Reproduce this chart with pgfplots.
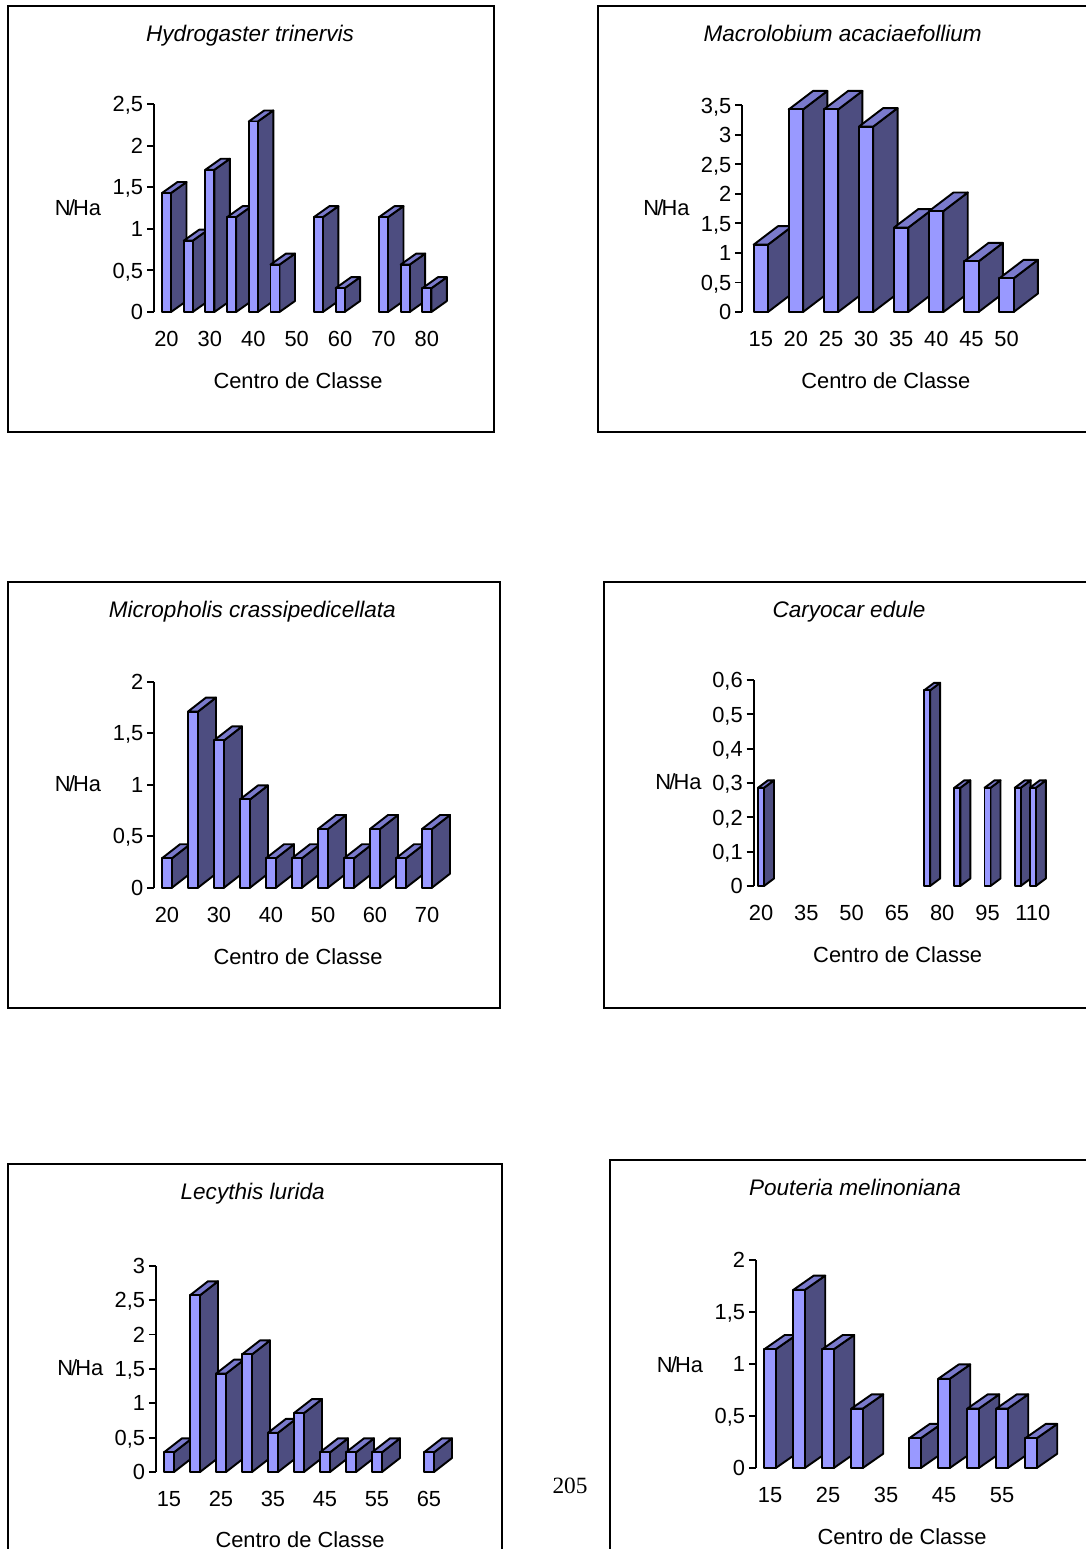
\documentclass[border=0pt]{standalone}
\usepackage{pgfplots}
\pgfplotsset{compat=1.18}
\usepackage{fontspec}
\setmainfont{Liberation Sans}
\newfontfamily\pagefont{Liberation Serif}
\definecolor{barfront}{HTML}{9999FF}
\definecolor{barside}{HTML}{4D4D80}
\definecolor{bartop}{HTML}{7A7ACC}
\newcommand\lab{\fontsize{16.4}{19}\selectfont}
\newcommand\tit{\fontsize{16.9}{19}\selectfont}
\pgfplotsset{
  barline/.style={draw=black,line width=1.45pt,line join=round},
}
% One pseudo-3D column: side and top faces, then the front face.
% Arguments: class centre, N/Ha value.
\newcommand\column[2]{%
  \pgfmathparse{#2>0 ? 1 : 0}%
  \ifnum\pgfmathresult=1
    \pgfmathsetmacro\xa{#1-0.5*\W/\XS}%
    \pgfmathsetmacro\xb{#1+0.5*\W/\XS}%
    \pgfmathsetmacro\xc{\xb+\DX/\XS}%
    \pgfmathsetmacro\xd{\xa+\DX/\XS}%
    \pgfmathsetmacro\dy{\DY*\Ymax/(\Bt-\Tp)}%
    \pgfmathsetmacro\ytop{#2+\dy}%
    \edef\faces{%
      \noexpand\addplot[barline,fill=barside] coordinates {(\xb,0)(\xc,\dy)(\xc,\ytop)(\xb,#2)} --cycle;
      \noexpand\addplot[barline,fill=bartop] coordinates {(\xa,#2)(\xb,#2)(\xc,\ytop)(\xd,\ytop)} --cycle;
      \noexpand\addplot[barline,fill=barfront] coordinates {(\xa,0)(\xb,0)(\xb,#2)(\xa,#2)} --cycle;
    }%
    \faces
  \fi
}
% Arguments: title, y ticks, x ticks, class/value pairs.
\newcommand\panel[4]{%
  \pgfmathsetmacro\Ax{\Lf*0.75}%
  \pgfmathsetmacro\Ay{-\Bt*0.75}%
  \pgfmathsetmacro\xlo{\Xz-(\Cz-\Lf)/\XS}%
  \pgfmathsetmacro\xhi{\Xz+(\Rt-\Cz)/\XS}%
  \pgfmathsetmacro\Wd{(\Rt-\Lf)*0.75}%
  \pgfmathsetmacro\Ht{(\Bt-\Tp)*0.75}%
  \pgfmathsetmacro\TXr{(\TX-\Lf)/(\Rt-\Lf)}%
  \pgfmathsetmacro\TYr{(\Bt-\TY)/(\Bt-\Tp)}%
  \pgfmathsetmacro\NXr{(\NX-\Lf)/(\Rt-\Lf)}%
  \pgfmathsetmacro\NYr{(\Bt-\NY)/(\Bt-\Tp)}%
  \pgfmathsetmacro\CXr{(\CX-\Lf)/(\Rt-\Lf)}%
  \pgfmathsetmacro\CYr{(\Bt-\CY)/(\Bt-\Tp)}%
  \pgfmathsetmacro\tickdrop{(\TLY-\Bt)*0.75+5.8-5.25}%
  \begin{axis}[
    at={(\Ax pt,\Ay pt)},anchor=south west,
    scale only axis,width=\Wd pt,height=\Ht pt,
    xmin=\xlo,xmax=\xhi,ymin=0,ymax=\Ymax,
    clip=false,
    axis y line=left,axis x line*=bottom,
    axis line style={line width=1.45pt,-},
    x axis line style={draw=none},
    xtick={#3},ytick={#2},
    tick align=outside,
    major tick length=5.25pt,
    ytick style={line width=1.45pt,black},
    xtick style={draw=none},
    tick label style={font=\lab},
    /pgf/number format/assume math mode=true,
    /pgf/number format/use comma,
    /pgf/number format/fixed,
    /pgf/number format/precision=1,
    yticklabel style={anchor=base east,inner sep=0pt,xshift=-2.8pt,yshift=-5.8pt},
    xticklabel style={anchor=base,inner sep=0pt,yshift=-\tickdrop pt},
    title={\itshape #1},
    every axis title shift=0pt,
    title style={font=\tit,at={(axis description cs:\TXr,\TYr)},anchor=base,inner sep=0pt,yshift=-5.7pt},
    xlabel={Centro de Classe},
    xlabel style={font=\lab,at={(axis description cs:\CXr,\CYr)},anchor=center,inner sep=0pt},
    ylabel={N\kern-1.4pt/\kern-1.4ptHa},
    ylabel style={font=\lab,at={(axis description cs:\NXr,\NYr)},anchor=center,rotate=-90,inner sep=0pt},
  ]
    \foreach \c/\v in {#4}{\column{\c}{\v}}
  \end{axis}%
}
\begin{document}
\begin{tikzpicture}[x=0.75pt,y=-0.75pt]
\useasboundingbox (0,0) rectangle (1086,1549);
\tikzset{frame/.style={line width=1.5pt,black}}
% Chart frames; those at the page edge run off it.
\draw[frame] (8,6) rectangle (494,432);
\draw[frame] (1086,6) -- (598,6) -- (598,432) -- (1086,432);
\draw[frame] (8,582) rectangle (500,1008);
\draw[frame] (1086,582) -- (604,582) -- (604,1008) -- (1086,1008);
\draw[frame] (8,1549) -- (8,1164) -- (502,1164) -- (502,1549);
\draw[frame] (610,1549) -- (610,1160) -- (1086,1160);
\node[font=\pagefont\fontsize{17.5}{20}\selectfont,anchor=center,inner sep=0pt] at (570,1486) {205};

% Hydrogaster trinervis
\def\Lf{154}\def\Rt{450}\def\Bt{312}\def\Tp{104}\def\Ymax{2.5}
\def\XS{4.34}\def\Xz{20}\def\Cz{166.5}\def\W{9}\def\DX{15.5}\def\DY{11}
\def\TX{250}\def\TY{34}\def\NX{78}\def\NY{208}\def\CX{298}\def\CY{380.5}\def\TLY{339}
\panel{Hydrogaster trinervis}{0,0.5,1,1.5,2,2.5}{20,30,40,50,60,70,80}
  {20/1.43,25/0.857,30/1.71,35/1.14,40/2.29,45/0.57,50/0,55/1.14,60/0.286,65/0,70/1.14,75/0.57,80/0.286}

% Macrolobium acaciaefollium
\def\Lf{742.3}\def\Rt{1040}\def\Bt{312}\def\Tp{105.3}\def\Ymax{3.5}
\def\XS{7.02}\def\Xz{15}\def\Cz{760.8}\def\W{14.3}\def\DX{24.3}\def\DY{18.5}
\def\TX{842.7}\def\TY{34}\def\NX{666.5}\def\NY{208}\def\CX{885.8}\def\CY{380.5}\def\TLY{339}
\panel{Macrolobium acaciaefollium}{0,0.5,1,1.5,2,2.5,3,3.5}{15,20,25,30,35,40,45,50}
  {15/1.14,20/3.43,25/3.43,30/3.14,35/1.43,40/1.71,45/0.857,50/0.57}

% Micropholis crassipedicellata
\def\Lf{154.3}\def\Rt{452}\def\Bt{887.7}\def\Tp{681.7}\def\Ymax{2}
\def\XS{5.2}\def\Xz{20}\def\Cz{167}\def\W{10}\def\DX{18}\def\DY{14}
\def\TX{252.3}\def\TY{610}\def\NX{78}\def\NY{784}\def\CX{298}\def\CY{956.5}\def\TLY{915}
\panel{Micropholis crassipedicellata}{0,0.5,1,1.5,2}{20,30,40,50,60,70}
  {20/0.286,25/1.71,30/1.43,35/0.857,40/0.286,45/0.286,50/0.57,55/0.286,60/0.57,65/0.286,70/0.57}

% Caryocar edule
\def\Lf{753.7}\def\Rt{1050}\def\Bt{886}\def\Tp{680}\def\Ymax{0.6}
\def\XS{3.02}\def\Xz{20}\def\Cz{761}\def\W{6}\def\DX{10}\def\DY{7.5}
\def\TX{849}\def\TY{610}\def\NX{678.5}\def\NY{782}\def\CX{897.7}\def\CY{954.5}\def\TLY{913}
\panel{Caryocar edule}{0,0.1,0.2,0.3,0.4,0.5,0.6}{20,35,50,65,80,95,110}
  {20/0.286,75/0.57,85/0.286,95/0.286,105/0.286,110/0.286}

% Lecythis lurida
\def\Lf{156}\def\Rt{454}\def\Bt{1472}\def\Tp{1265.7}\def\Ymax{3}
\def\XS{5.2}\def\Xz{15}\def\Cz{169}\def\W{10}\def\DX{18}\def\DY{14}
\def\TX{252.7}\def\TY{1192}\def\NX{80.3}\def\NY{1368}\def\CX{300}\def\CY{1539.5}\def\TLY{1499}
\panel{Lecythis lurida}{0,0.5,1,1.5,2,2.5,3}{15,25,35,45,55,65}
  {15/0.286,20/2.57,25/1.43,30/1.71,35/0.57,40/0.857,45/0.286,50/0.286,55/0.286,60/0,65/0.286}

% Pouteria melinoniana
\def\Lf{756}\def\Rt{1060}\def\Bt{1468}\def\Tp{1259.7}\def\Ymax{2}
\def\XS{5.8}\def\Xz{15}\def\Cz{770}\def\W{11.5}\def\DX{20.5}\def\DY{14.3}
\def\TX{855}\def\TY{1188}\def\NX{680}\def\NY{1365}\def\CX{902}\def\CY{1536.7}\def\TLY{1495}
\panel{Pouteria melinoniana}{0,0.5,1,1.5,2}{15,25,35,45,55}
  {15/1.14,20/1.71,25/1.14,30/0.57,35/0,40/0.286,45/0.857,50/0.57,55/0.57,60/0.286}
\end{tikzpicture}
\end{document}
